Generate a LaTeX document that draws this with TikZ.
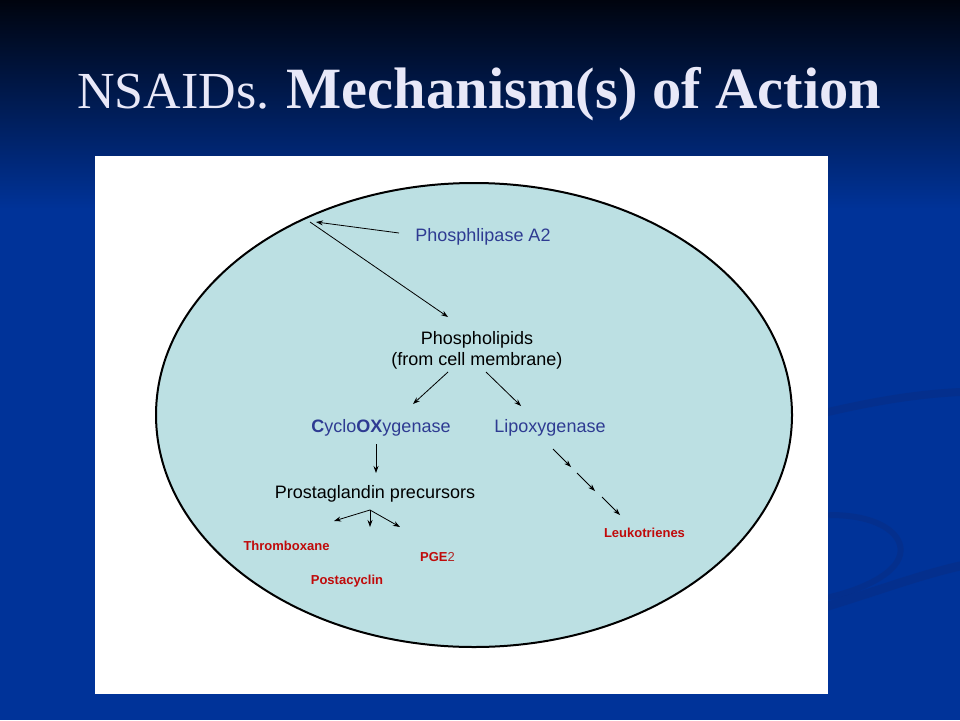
\documentclass[tikz,border=0pt]{standalone}
\usepackage{fontspec}
\setmainfont{Liberation Sans}
\newfontfamily\titlefont{Liberation Serif}
\usetikzlibrary{arrows.meta}
\definecolor{slideblue}{HTML}{003399}
\definecolor{slidetop}{HTML}{00040E}
\definecolor{slidemid}{HTML}{00164A}
\definecolor{swoosh}{HTML}{0A2C80}
\definecolor{titletext}{HTML}{E8E8F8}
\definecolor{cellfill}{HTML}{BCE0E3}
\definecolor{enzblue}{HTML}{2E3B92}
\definecolor{prodred}{HTML}{C00A0A}
\tikzset{
  arr/.style={draw=black, line width=0.8pt, -{Stealth[length=7pt,width=5pt]}},
  plain/.style={font=\fontsize{18}{21}\selectfont, text=black, inner sep=0pt},
  enz/.style={font=\fontsize{18}{21}\selectfont, text=enzblue, inner sep=0pt},
  prod/.style={font=\fontsize{13}{15}\selectfont\bfseries, text=prodred, inner sep=0pt},
  swooshline/.style={draw=swoosh, line cap=round, opacity=0.45}
}
\begin{document}
\begin{tikzpicture}[x=1pt,y=-1pt]
\useasboundingbox (0,0) rectangle (960,720);
% background
\fill[slideblue] (0,0) rectangle (960,720);
\shade[top color=slidetop, middle color=slidemid, bottom color=slideblue] (0,0) rectangle (960,210);
% decorative swooshes
\draw[swooshline, line width=8pt] (828,412) .. controls (880,400) and (920,394) .. (960,392);
\draw[swooshline, line width=6pt] (830,515) .. controls (880,515) and (905,535) .. (900,555) .. controls (895,575) and (860,590) .. (830,597);
\draw[swooshline, line width=9pt] (828,606) .. controls (880,590) and (920,575) .. (960,566);
% title
\node[anchor=base west, inner sep=0pt, text=titletext] (title) at (77,108)
  {\titlefont\fontsize{52}{52}\selectfont NSAIDs. \fontsize{58.5}{58.5}\selectfont\bfseries Mechanism(s) of Action};
% white panel
\fill[white] (95,156) rectangle (828,694);
% cell
\draw[line width=2pt, fill=cellfill] (474,415) ellipse [x radius=318, y radius=232];
% labels
\node[enz] (pla) at (483,237) {Phosphlipase A2};
\node[plain, align=center] (phl) at (477,350) {Phospholipids\\(from cell membrane)};
\node[enz] (cox) at (381,428) {\textbf{C}yclo\textbf{OX}ygenase};
\node[enz] (lox) at (550,428) {Lipoxygenase};
\node[plain] (ppc) at (375,494) {Prostaglandin precursors};
\node[prod] (thx) at (286.5,546) {Thromboxane};
\node[prod, anchor=west] (pge) at (420,557) {PGE{\mdseries\color{prodred!75!gray}2}};
\node[prod] (pcy) at (347,581) {Postacyclin};
\node[prod] (ltr) at (644.5,533) {Leukotrienes};
% connector end points
\coordinate (memb) at (310,222);
\coordinate (membtip) at (316,222);
\coordinate (plaend) at (399,233);
\coordinate (phltip) at (448,317);
\coordinate (phlL) at (448,372);
\coordinate (phlR) at (486,372);
\coordinate (coxtip) at (413,404);
\coordinate (loxtip) at (521,406);
\coordinate (coxbot) at (376,444);
\coordinate (ppctop) at (376,473);
\coordinate (fan) at (370,510);
\coordinate (fanL) at (334,521);
\coordinate (fanM) at (370,527);
\coordinate (fanR) at (400,527);
\coordinate (l1a) at (553,449);
\coordinate (l1b) at (571,467);
\coordinate (l2a) at (577,473);
\coordinate (l2b) at (595,491);
\coordinate (l3a) at (602,497);
\coordinate (l3b) at (620,515);
% connectors
\draw[arr] (plaend) -- (membtip);
\draw[arr] (memb) -- (phltip);
\draw[arr] (phlL) -- (coxtip);
\draw[arr] (phlR) -- (loxtip);
\draw[arr] (coxbot) -- (ppctop);
\draw[arr] (fan) -- (fanL);
\draw[arr] (fan) -- (fanM);
\draw[arr] (fan) -- (fanR);
\draw[arr] (l1a) -- (l1b);
\draw[arr] (l2a) -- (l2b);
\draw[arr] (l3a) -- (l3b);
\end{tikzpicture}
\end{document}
